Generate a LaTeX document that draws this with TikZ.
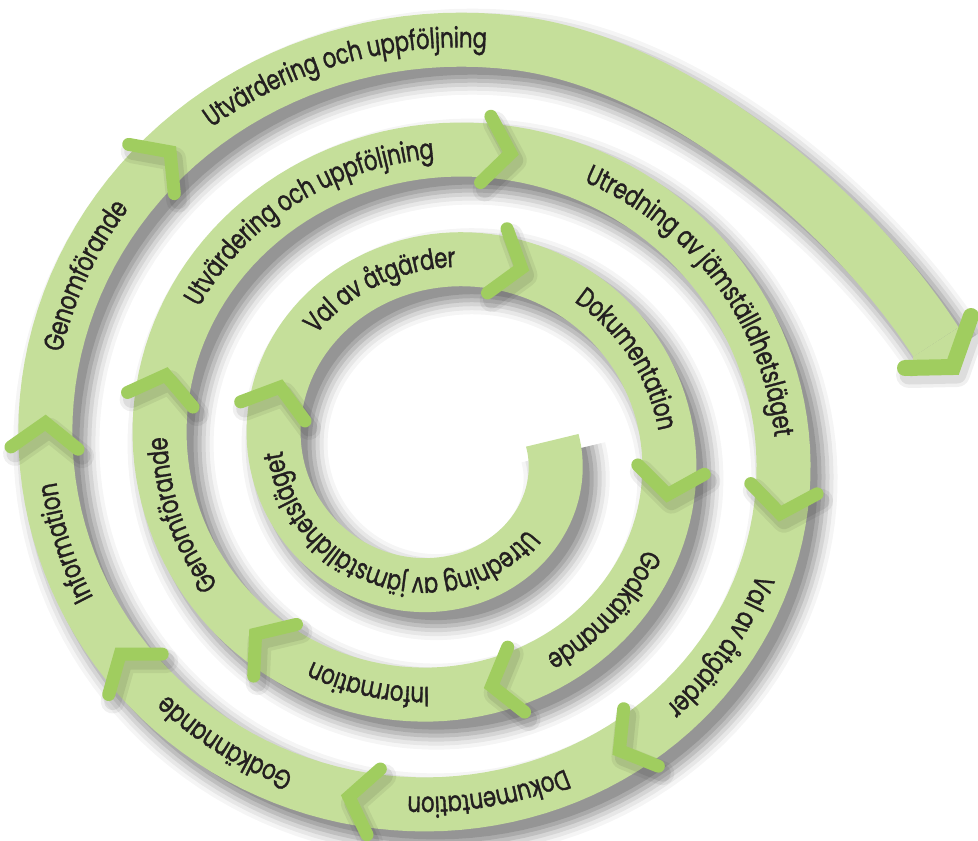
\documentclass[tikz,border=0pt]{standalone}
\usepackage{fontspec}
\setmainfont{Poppins}[FakeStretch=0.76,FakeBold=1.2]
\usetikzlibrary{calc,decorations.text}
\definecolor{bandcol}{HTML}{C5DF9A}
\definecolor{chevcol}{HTML}{A0CD5F}
\definecolor{txtcol}{HTML}{231F20}
\newcommand\lblfont{\fontsize{28}{28}\selectfont}
\newcommand\bandpath{plot[domain=-5:1000,samples=403] ({SX(\x)},{SY(\x)}) .. controls (676,63.5) and (850,209) .. (936,342)}
\newcommand\lbl[3]{\path[decorate,decoration={text along path,text={|\lblfont|#3},text align=center,raise=-7.7pt,text color=txtcol}] plot[domain=#1:#2,samples=90] ({SX(\x)},{SY(\x)});}
\newcommand\chevat[3]{\draw[#2] let \p1=({SX(#1)},{SY(#1)}), \p2=({SX(#1+0.5)},{SY(#1+0.5)}), \n1={atan2(\y2-\y1,\x2-\x1)} in ($(\p1)+#3+(\n1+127:42pt)$) -- ($(\p1)+#3$) -- ($(\p1)+#3+(\n1-127:42pt)$);}
\begin{document}
\begin{tikzpicture}[x=1pt,y=-1pt,
  declare function={RR(\t)=107+0.30556*\t; SX(\t)=443+1.04*RR(\t)*cos(\t); SY(\t)=449.5+RR(\t)*sin(\t);},
  bandline/.style={line width=54pt,draw=bandcol,line join=round},
  chevline/.style={line width=13pt,draw=chevcol,line cap=round,line join=miter},
  chevshadow/.style={line cap=round,line join=round,draw=black}]
\useasboundingbox (0,0) rectangle (978,841);
% band shadow
\foreach \w/\o in {86/0.04,78/0.06,70/0.08,62/0.1,54/0.11,46/0.12}{
  \draw[line width=\w pt,draw=black,draw opacity=\o,line join=round,shift={(11,12)}] \bandpath;
}
% band
\draw[bandline] \bandpath;
\fill[bandcol] (958.7,327.3) -- (953,367) -- (912,368) -- (913.3,356.7) -- cycle;
% chevron shadows
\foreach \q in {201.7,292.6,371.8,438.8,494.3,555.6,642.4,731.2,780.6,824.6,866.6,904,948.6}{
  \chevat{\q}{chevshadow,line width=24pt,draw opacity=0.06}{(4pt,-7pt)}
  \chevat{\q}{chevshadow,line width=17pt,draw opacity=0.08}{(4pt,-7pt)}
}
\foreach \w/\o in {26/0.06,19/0.08}{
  \draw[chevshadow,line width=\w pt,draw opacity=\o] (909,375) -- (957,374) -- (975,323);
}
% chevrons
\foreach \q in {201.7,292.6,371.8,438.8,494.3,555.6,642.4,731.2,780.6,824.6,866.6,904,948.6}{
  \chevat{\q}{chevline}{(0pt,0pt)}
}
\draw[chevline,line width=16pt] (905,368) -- (953,367) -- (971,316);
% labels
\lbl{12}{202}{Utredning av jämställdhetsläget}
\lbl{202}{292}{Val av åtgärder}
\lbl{293}{371}{Dokumentation}
\lbl{372}{438}{Godkännande}
\lbl{439}{494}{Information}
\lbl{495}{555}{Genomförande}
\lbl{556}{642}{Utvärdering och uppföljning}
\lbl{643}{731}{Utredning av jämställdhetsläget}
\lbl{732}{780}{Val av åtgärder}
\lbl{781}{824}{Dokumentation}
\lbl{825}{866}{Godkännande}
\lbl{867}{904}{Information}
\lbl{905}{948}{Genomförande}
\lbl{950}{1001}{Utvärdering och uppföljning}
\end{tikzpicture}
\end{document}
